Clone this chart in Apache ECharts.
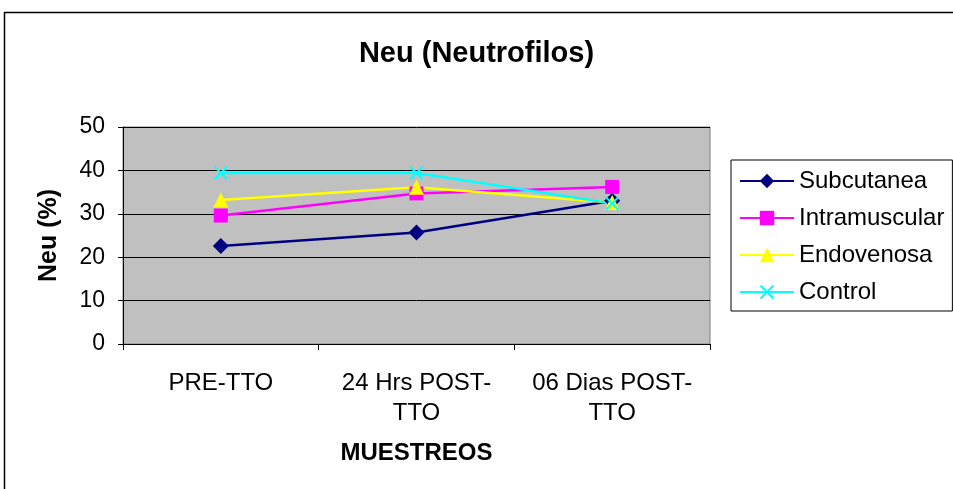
<!DOCTYPE html>
<html>
<head>
<meta charset="utf-8">
<script src="https://cdn.jsdelivr.net/npm/echarts@6/dist/echarts.min.js"></script>
<style>
  html, body { margin: 0; padding: 0; background: #fff; }
  #main { width: 953px; height: 489px; }
</style>
</head>
<body>
<div id="main"></div>
<script>
// datos
var categorias = ['PRE-TTO', '24 Hrs POST-\nTTO', '06 Dias POST-\nTTO'];
var subcutanea = [22.6, 25.7, 33.0];
var intramuscular = [29.6, 34.7, 36.2];
var endovenosa = [33.2, 36.1, 32.6];
var control = [39.4, 39.4, 32.4];

var fuente = 'Liberation Sans, Arial, sans-serif';
var simboloX = 'path://M0,1 L1,0 L5,4 L9,0 L10,1 L6,5 L10,9 L9,10 L5,6 L1,10 L0,9 L4,5 Z';

function serie(nombre, datos, color, simbolo, tam) {
    return {
        name: nombre,
        type: 'line',
        data: datos,
        symbol: simbolo,
        symbolSize: tam,
        lineStyle: { color: color, width: 2.5 },
        itemStyle: { color: color },
        animation: false
    };
}

var myChart = echarts.init(document.getElementById('main'));
var option = {
    backgroundColor: '#fff',
    textStyle: { fontFamily: fuente },
    title: {
        text: 'Neu (Neutrofilos)',
        left: 'center',
        top: 34,
        textStyle: { fontSize: 29, fontWeight: 'bold', color: '#000', fontFamily: fuente }
    },
    graphic: [{
        type: 'rect',
        shape: { x: 4.5, y: 12.5, width: 960, height: 490 },
        style: { fill: 'none', stroke: '#000', lineWidth: 1.5 },
        silent: true
    }],
    legend: {
        orient: 'vertical',
        left: 731,
        top: 160,
        padding: [9, 8, 7, 8],
        borderColor: '#000',
        borderWidth: 1,
        itemWidth: 54,
        itemHeight: 18,
        itemGap: 13,
        textStyle: { fontSize: 24, color: '#000', fontFamily: fuente },
        data: ['Subcutanea', 'Intramuscular', 'Endovenosa', 'Control']
    },
    grid: {
        left: 123,
        right: 243,
        top: 127,
        bottom: 145,
        show: true,
        backgroundColor: '#C0C0C0',
        borderColor: '#808080',
        borderWidth: 1
    },
    xAxis: {
        type: 'category',
        data: categorias,
        boundaryGap: true,
        name: 'MUESTREOS',
        nameLocation: 'middle',
        nameGap: 97,
        nameTextStyle: { fontSize: 24, fontWeight: 'bold', color: '#000', fontFamily: fuente },
        axisLine: { lineStyle: { color: '#000', width: 1 } },
        axisTick: { show: true, length: 6, lineStyle: { color: '#000' } },
        axisLabel: {
            interval: 0,
            hideOverlap: false,
            fontSize: 24,
            color: '#000',
            lineHeight: 30,
            margin: 24,
            fontFamily: fuente
        }
    },
    yAxis: {
        type: 'value',
        min: 0,
        max: 50,
        interval: 10,
        name: 'Neu (%)',
        nameLocation: 'middle',
        nameGap: 61,
        nameTextStyle: { fontSize: 25, fontWeight: 'bold', color: '#000', fontFamily: fuente },
        axisLine: { show: true, lineStyle: { color: '#000', width: 1 } },
        axisTick: { show: true, length: 5, lineStyle: { color: '#000' } },
        axisLabel: { fontSize: 23, color: '#000', margin: 18, fontFamily: fuente },
        splitLine: { show: true, lineStyle: { color: '#000', width: 1 } }
    },
    series: [
        serie('Subcutanea', subcutanea, '#000080', 'diamond', 16),
        serie('Intramuscular', intramuscular, '#FF00FF', 'rect', 14),
        serie('Endovenosa', endovenosa, '#FFFF00', 'triangle', 15),
        serie('Control', control, '#00FFFF', simboloX, 14)
    ]
};
myChart.setOption(option);
</script>
</body>
</html>
